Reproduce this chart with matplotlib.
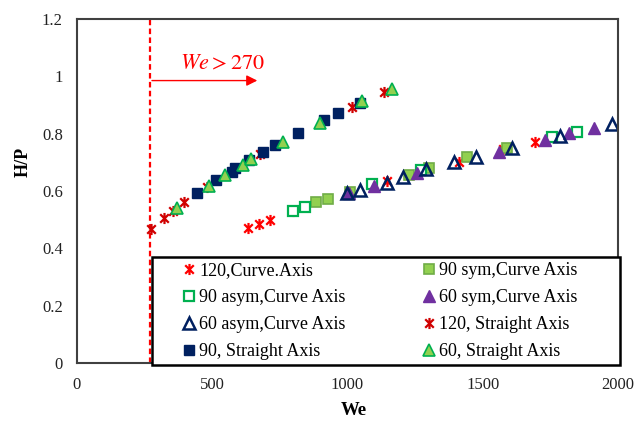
#!/usr/bin/env python3
"""H/P vs We scatter: curved vs straight axis jets, with the We > 270 threshold."""
import matplotlib
matplotlib.use("Agg")
import matplotlib.pyplot as plt
from matplotlib.path import Path
from matplotlib.patches import Rectangle

# --- data ---------------------------------------------------------------
WE_120_CURVE = [631, 672, 715, 798, 1146, 1270, 1411, 1575, 1694]
HP_120_CURVE = [0.470, 0.483, 0.500, 0.530, 0.634, 0.671, 0.700, 0.745, 0.772]

WE_90_SYM = [885, 930, 1010, 1226, 1300, 1442, 1590]
HP_90_SYM = [0.562, 0.573, 0.597, 0.656, 0.679, 0.718, 0.749]

WE_90_ASYM = [798, 844, 1090, 1270, 1756, 1848]
HP_90_ASYM = [0.530, 0.545, 0.625, 0.673, 0.787, 0.807]

WE_60_SYM = [1004, 1097, 1257, 1559, 1731, 1818, 1910]
HP_60_SYM = [0.592, 0.617, 0.662, 0.737, 0.778, 0.801, 0.819]

WE_60_ASYM = [998, 1047, 1146, 1207, 1290, 1392, 1476, 1608, 1787, 1978]
HP_60_ASYM = [0.594, 0.603, 0.629, 0.650, 0.675, 0.702, 0.720, 0.750, 0.792, 0.833]

WE_120_STR = [273, 323, 357, 397, 481, 678, 1017, 1134]
HP_120_STR = [0.466, 0.505, 0.531, 0.560, 0.615, 0.728, 0.894, 0.946]

WE_90_STR = [444, 515, 573, 585, 635, 688, 733, 818, 912, 967, 1047]
HP_90_STR = [0.594, 0.638, 0.667, 0.681, 0.708, 0.737, 0.760, 0.803, 0.848, 0.871, 0.908]

WE_60_STR = [372, 490, 548, 614, 644, 762, 897, 1054, 1165]
HP_60_STR = [0.540, 0.617, 0.656, 0.691, 0.710, 0.770, 0.838, 0.912, 0.955]

WE_LIMIT = 270
X_TICKS = [0, 500, 1000, 1500, 2000]
Y_TICKS = [0, 0.2, 0.4, 0.6, 0.8, 1.0, 1.2]
Y_TICK_LABELS = ["0", "0.2", "0.4", "0.6", "0.8", "1", "1.2"]

# asterisk marker like Excel's "star": an x plus a vertical bar
ASTER = Path(
    [(-1, -1), (1, 1), (-1, 1), (1, -1), (0, -1.3), (0, 1.3)],
    [Path.MOVETO, Path.LINETO, Path.MOVETO, Path.LINETO, Path.MOVETO, Path.LINETO],
)

RED = "#FF0000"
DARKRED = "#D00000"
NAVY = "#002060"
GREEN = "#00B050"
LIGHTGREEN = "#92D050"
OLIVE = "#70AD47"
PURPLE = "#7030A0"


def main():
    plt.rcParams["font.family"] = ["Liberation Serif", "DejaVu Serif"]
    plt.rcParams["mathtext.fontset"] = "stix"

    fig = plt.figure(figsize=(6.34, 4.21), dpi=100, facecolor="white")
    ax = fig.add_axes([0.121, 0.138, 0.854, 0.817])

    ax.axvline(WE_LIMIT, color=RED, ls=(0, (2.5, 1.5)), lw=1.6, zorder=1)
    ax.annotate("", xy=(667, 0.985), xytext=(WE_LIMIT + 8, 0.985),
                arrowprops=dict(arrowstyle="-|>", color=RED, lw=1.0,
                                mutation_scale=16, shrinkA=0, shrinkB=0))
    ax.text(380, 1.040, r"$We > 270$", color=RED, fontsize=16, va="center", ha="left")

    series = {}
    series["120curve"] = ax.plot(WE_120_CURVE, HP_120_CURVE, ls="none", marker=ASTER,
                                 ms=8, mec=RED, mew=1.6, label="120,Curve.Axis")[0]
    series["90sym"] = ax.plot(WE_90_SYM, HP_90_SYM, ls="none", marker="s", ms=7,
                              mfc=LIGHTGREEN, mec=OLIVE, mew=1.2, label="90 sym,Curve Axis")[0]
    series["90asym"] = ax.plot(WE_90_ASYM, HP_90_ASYM, ls="none", marker="s", ms=7,
                               mfc="white", mec=GREEN, mew=1.6, label="90 asym,Curve Axis")[0]
    series["60sym"] = ax.plot(WE_60_SYM, HP_60_SYM, ls="none", marker="^", ms=8,
                              mfc=PURPLE, mec=PURPLE, mew=1.0, label="60 sym,Curve Axis")[0]
    series["60asym"] = ax.plot(WE_60_ASYM, HP_60_ASYM, ls="none", marker="^", ms=8,
                               mfc="none", mec=NAVY, mew=1.8, label="60 asym,Curve Axis")[0]
    series["120str"] = ax.plot(WE_120_STR, HP_120_STR, ls="none", marker=ASTER, ms=8,
                               mec=DARKRED, mew=1.6, label="120, Straight Axis")[0]
    series["90str"] = ax.plot(WE_90_STR, HP_90_STR, ls="none", marker="s", ms=7,
                              mfc=NAVY, mec=NAVY, label="90, Straight Axis")[0]
    series["60str"] = ax.plot(WE_60_STR, HP_60_STR, ls="none", marker="^", ms=8,
                              mfc=LIGHTGREEN, mec=GREEN, mew=1.2, label="60, Straight Axis")[0]

    ax.set_xlim(0, 2000)
    ax.set_ylim(0, 1.2)
    ax.set_xticks(X_TICKS)
    ax.set_xticklabels([str(t) for t in X_TICKS])
    ax.set_yticks(Y_TICKS)
    ax.set_yticklabels(Y_TICK_LABELS)
    ax.tick_params(length=0, labelsize=12, pad=10, colors="#222222")
    for sp in ax.spines.values():
        sp.set_color("#404040")
        sp.set_linewidth(1.5)

    ax.set_xlabel("We", fontsize=13.5, fontweight="bold")
    ax.set_ylabel("H/P", fontsize=13, fontweight="bold")
    ax.xaxis.set_label_coords(0.511, -0.114)
    ax.yaxis.set_label_coords(-0.083, 0.584)

    # legend box drawn separately so the entries can sit inside it like in Excel
    box = Rectangle((0.139, -0.005), 0.864, 0.313, transform=ax.transAxes,
                    facecolor="white", edgecolor="black", lw=1.8, zorder=4,
                    clip_on=False)
    ax.add_patch(box)

    # legend fills row by row in the original, matplotlib fills column by column
    order = ["120curve", "90asym", "60asym", "90str", "90sym", "60sym", "120str", "60str"]
    handles = [series[k] for k in order]
    leg = ax.legend(handles, [h.get_label() for h in handles], ncol=2, loc="center left",
                    bbox_to_anchor=(0.196, 0.150), borderaxespad=0, borderpad=0,
                    fontsize=13, handlelength=0.7, handletextpad=0.2,
                    labelspacing=0.55, columnspacing=4.3, frameon=False)
    leg.set_zorder(5)

    fig.savefig("out.png", dpi=100, facecolor="white")
    plt.close(fig)


if __name__ == "__main__":
    main()
